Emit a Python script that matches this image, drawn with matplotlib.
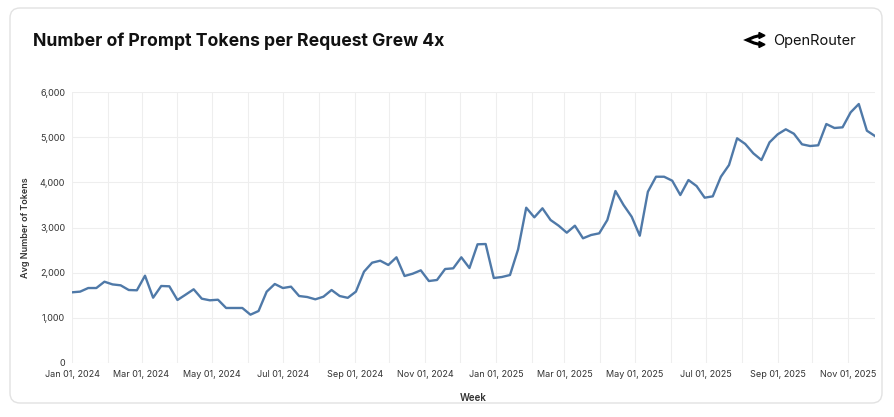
import matplotlib
matplotlib.use("Agg")
import matplotlib.pyplot as plt
import matplotlib.dates as mdates
import matplotlib.ticker as mticker
from matplotlib.patches import FancyBboxPatch, Polygon
from matplotlib.transforms import IdentityTransform
import pandas as pd

START_WEEK = "2024-01-01"
TOKENS = [
    1565, 1580, 1660, 1660, 1800, 1740, 1720, 1616, 1610, 1933,
    1446, 1705, 1698, 1395, 1512, 1632, 1424, 1388, 1401, 1218,
    1218, 1218, 1070, 1151, 1579, 1749, 1660, 1690, 1483, 1461,
    1410, 1468, 1616, 1483, 1443, 1580, 2022, 2221, 2265, 2170,
    2340, 1926, 1977, 2052, 1815, 1838, 2081, 2096, 2340, 2103,
    2628, 2634, 1882, 1904, 1948, 2517, 3438, 3225, 3425, 3166,
    3040, 2885, 3040, 2761, 2834, 2871, 3166, 3808, 3498, 3239,
    2818, 3792, 4124, 4124, 4036, 3719, 4051, 3918, 3660, 3690,
    4124, 4383, 4975, 4850, 4642, 4494, 4886, 5063, 5174, 5076,
    4842, 4804, 4820, 5291, 5203, 5218, 5550, 5734, 5143, 5025,
]
WEEKS = pd.date_range(START_WEEK, periods=len(TOKENS), freq="7D")
Y_TICKS = [0, 1000, 2000, 3000, 4000, 5000, 6000]

TITLE = "Number of Prompt Tokens per Request Grew 4x"
BRAND = "OpenRouter"
LINE_COLOR = "#4F79A8"
GRID_COLOR = "#EEEEEE"
TEXT_COLOR = "#333333"

plt.rcParams["font.family"] = ["Inter", "DejaVu Sans"]

W, H = 894, 417
fig = plt.figure(figsize=(W / 100, H / 100), dpi=100)
fig.patch.set_facecolor("white")

# card frame, drawn in pixel coords (y from bottom), behind the axes
card = FancyBboxPatch((10, H - 403), 872, 395, boxstyle="round,pad=0,rounding_size=10",
                      transform=IdentityTransform(), facecolor="white",
                      edgecolor="#E2E2E2", linewidth=1.0, zorder=-5)
fig.patches.append(card)

fig.text(33 / W, 1 - 41 / H, TITLE, fontsize=12.7, fontweight="bold",
         color="#111111", va="center", ha="left")

# OpenRouter logo: a "<" with arrow heads on both ends
px = lambda x, y: (x, H - y)
logo_pts = [px(760, 35.5), px(754, 37), px(747, 40), px(754, 43), px(760, 44.5)]
fig.lines.append(plt.Line2D([p[0] for p in logo_pts], [p[1] for p in logo_pts],
                            transform=IdentityTransform(), color="black",
                            linewidth=2.2, solid_joinstyle="miter", solid_capstyle="butt"))
for tip, a, b in [((765, 35.5), (759, 32.5), (759, 38.5)),
                  ((765, 44.5), (759, 41.5), (759, 47.5))]:
    fig.patches.append(Polygon([px(*tip), px(*a), px(*b)], closed=True,
                               transform=IdentityTransform(), color="black"))
fig.text(773 / W, 1 - 40.5 / H, BRAND, fontsize=10.5, color="#111111",
         va="center", ha="left")

ax = fig.add_axes([72 / W, (H - 363) / H, 803 / W, 271 / H])
ax.set_facecolor("white")
ax.plot(WEEKS, TOKENS, color=LINE_COLOR, linewidth=1.7, solid_joinstyle="round", zorder=3)

ax.set_xlim(WEEKS[0], WEEKS[-1])
ax.set_ylim(0, 6000)
ax.set_yticks(Y_TICKS)
ax.yaxis.set_major_formatter(mticker.FuncFormatter(lambda v, _: f"{int(v):,}"))

ax.xaxis.set_major_locator(mdates.MonthLocator(bymonth=[1, 3, 5, 7, 9, 11]))
ax.xaxis.set_major_formatter(mdates.DateFormatter("%b %d, %Y"))
ax.xaxis.set_minor_locator(mdates.MonthLocator())

ax.grid(True, which="both", axis="x", color=GRID_COLOR, linewidth=0.8, zorder=0)
ax.grid(True, which="major", axis="y", color=GRID_COLOR, linewidth=0.8, zorder=0)
for s in ax.spines.values():
    s.set_visible(False)
ax.tick_params(axis="both", which="both", length=0, labelsize=6.5, colors=TEXT_COLOR)
ax.tick_params(axis="y", pad=5)
ax.tick_params(axis="x", pad=5)

ax.set_xlabel("Week", fontsize=7, fontweight="semibold", color=TEXT_COLOR, labelpad=10)
ax.set_ylabel("Avg Number of Tokens", fontsize=6.5, fontweight="semibold",
              color=TEXT_COLOR, labelpad=7)

fig.savefig("out.png", dpi=100, facecolor="white")
